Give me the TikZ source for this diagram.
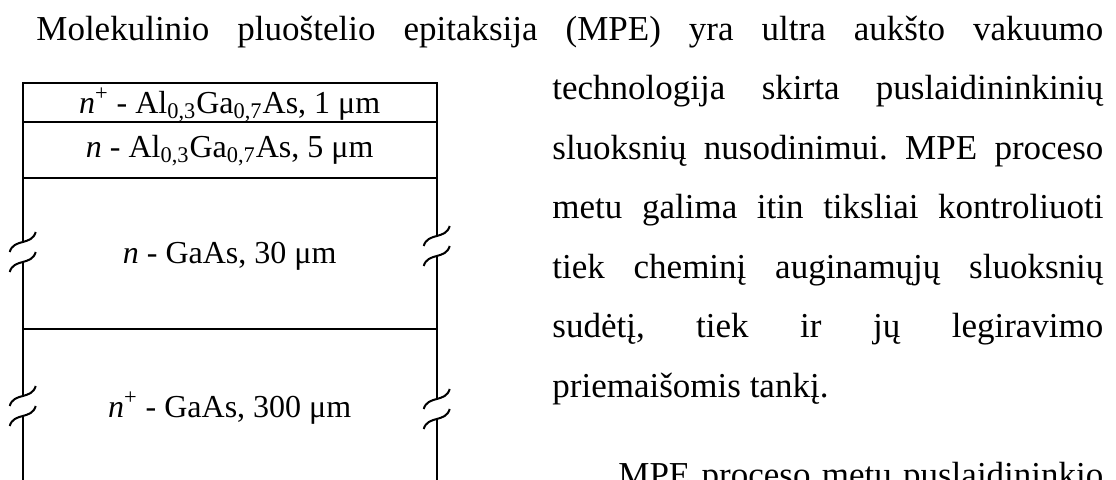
\documentclass[tikz,border=0pt]{standalone}
\usepackage{fontspec}
\setmainfont{Liberation Serif}
\frenchspacing
\tikzset{
  txt/.style={anchor=base west, inner sep=0pt, font=\fontsize{17.5}{21}\selectfont},
  lbl/.style={anchor=base, inner sep=0pt, font=\fontsize{16}{19}\selectfont},
  wall/.style={line width=1.1pt, line cap=rect},
  wave/.style={line width=1pt}
}
\begin{document}
\begin{tikzpicture}[x=0.5pt, y=-0.5pt]
\useasboundingbox (0,0) rectangle (1116,479);
\clip (0,0) rectangle (1116,479);
% text of the page
\node[txt] (head) at (36,40)
  {\makebox[533.5pt][s]{Molekulinio pluoštelio epitaksija (MPE) yra ultra aukšto vakuumo}};
\foreach \i/\y/\words in {1/99.5/{technologija skirta puslaidininkinių},
  2/159/{sluoksnių nusodinimui. MPE proceso},
  3/218.5/{metu galima itin tiksliai kontroliuoti},
  4/278/{tiek cheminį auginamųjų sluoksnių},
  5/337.5/{sudėtį, tiek ir jų legiravimo}}
  \node[txt] (line\i) at (552,\y) {\makebox[275.5pt][s]{\words}};
\node[txt] (line6) at (552,397) {priemaišomis tankį.};
\node[txt] (next) at (618,486) {\makebox[242.5pt][s]{MPE proceso metu puslaidininkio}};
% layers
\foreach \y in {83.3,121.7,178.3,329}
  \draw[wall] (22.7,\y) -- (436.7,\y);
\draw[wall] (22.7,83.3) -- (22.7,242) (22.7,262) -- (22.7,396) (22.7,416) -- (22.7,495);
\draw[wall] (436.7,83.3) -- (436.7,236) (436.7,256) -- (436.7,399) (436.7,419) -- (436.7,495);
% breaks
\foreach \bx/\by in {22.7/252, 436.7/246, 22.7/406, 436.7/409}
  \foreach \dy in {-10,10}
    \draw[wave] (\bx-13,\by+\dy+10) .. controls (\bx-9,\by+\dy-4)
      and (\bx+9,\by+\dy+4) .. (\bx+13,\by+\dy-10);
\node[lbl] (cap) at (229.7,113)
  {\textit{n}\textsuperscript{+} - Al\textsubscript{0,3}Ga\textsubscript{0,7}As, 1 μm};
\node[lbl] (clad) at (229.7,157)
  {\textit{n} - Al\textsubscript{0,3}Ga\textsubscript{0,7}As, 5 μm};
\node[lbl] (buffer) at (229.7,263) {\textit{n} - GaAs, 30 μm};
\node[lbl] (subs) at (229.7,417) {\textit{n}\textsuperscript{+} - GaAs, 300 μm};
\end{tikzpicture}
\end{document}
